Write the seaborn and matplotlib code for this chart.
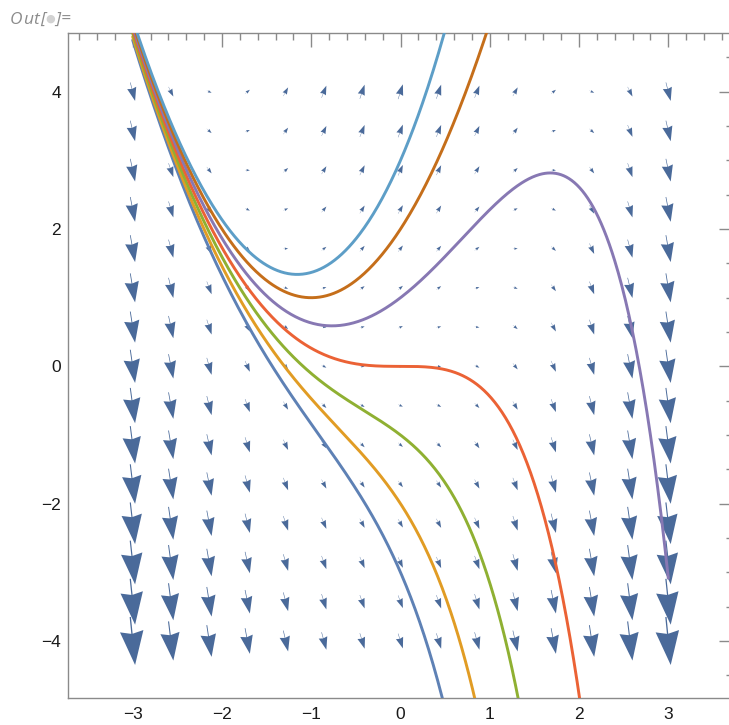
import numpy as np
import pandas as pd
import matplotlib
matplotlib.use("Agg")
import matplotlib.pyplot as plt
import seaborn as sns

# ---- data ----
# slope field dy/dx = y - x^2 sampled on a 15 x 15 grid
field_x = np.linspace(-3, 3, 15)
field_y = np.linspace(-4, 4, 15)
# initial values y(0) of the seven solution curves
initial_y0 = [-3, -2, -1, 0, 1, 2, 3]
curve_colors = ["#5E81B5", "#E19C24", "#8FB032", "#EB6235",
                "#8778B3", "#C56E1A", "#5D9EC7"]
x_ticks = [-3, -2, -1, 0, 1, 2, 3]
y_ticks = [-4, -2, 0, 2, 4]


def slope(x, y):
    return y - x ** 2


def solution(x, y0):
    # exact solution of y' = y - x^2 with y(0) = y0
    return x ** 2 + 2 * x + 2 + (y0 - 2) * np.exp(x)


xs = np.linspace(-3, 3, 600)
rows = []
for k, y0 in enumerate(initial_y0):
    for xv, yv in zip(xs, solution(xs, y0)):
        rows.append({"x": xv, "y": yv, "curve": str(k)})
df = pd.DataFrame(rows)

# ---- figure ----
sns.set_style("white")
plt.rcParams["font.family"] = ["Liberation Sans", "DejaVu Sans"]

W, H = 729, 725
fig = plt.figure(figsize=(W / 100, H / 100), dpi=100)
ax = fig.add_axes([67.7 / W, (H - 698) / H, 665.6 / W, 665 / H])

X, Y = np.meshgrid(field_x, field_y)
U = np.ones_like(X)
V = slope(X, Y)
ax.quiver(X, Y, U, V, angles="xy", scale_units="xy", scale=18.6,
          pivot="middle", units="dots", width=2.0,
          headlength=26, headwidth=18, headaxislength=24,
          minshaft=1.42, minlength=0, color="#4A6A9A", zorder=2)

sns.lineplot(data=df, x="x", y="y", hue="curve", palette=curve_colors,
             sort=False, estimator=None, linewidth=2.1, legend=False,
             ax=ax, zorder=3)

ax.set_xlim(-3.728, 3.728)
ax.set_ylim(-4.83, 4.855)
ax.set_xlabel("")
ax.set_ylabel("")

frame_col = "#8a8a8a"
for s in ax.spines.values():
    s.set_color(frame_col)
    s.set_linewidth(1.0)
    s.set_visible(True)

ax.set_xticks(x_ticks)
ax.set_yticks(y_ticks)
ax.set_xticks(np.arange(-3.6, 3.7, 0.2), minor=True)
ax.set_yticks(np.arange(-4.5, 4.6, 0.5), minor=True)
ax.tick_params(which="both", direction="in", top=True, right=True,
               color=frame_col, width=1.0)
ax.tick_params(which="major", length=10, labelsize=12.5,
               labelcolor="#1a1a1a")
ax.tick_params(which="minor", length=5)
ax.tick_params(axis="x", which="major", pad=6.5)
ax.tick_params(axis="y", which="major", pad=5)

# "Out[•]=" label
chars = [("O", 16.3), ("u", 28.3), ("t", 35.7), ("[", 43.0),
         ("]", 58.0), ("=", 66.0)]
for ch, cx in chars:
    fig.text(cx / W, 1 - 23.5 / H, ch, ha="center", va="baseline",
             fontsize=12.5, style="italic", color="#8c8c8c",
             family=["Open Sans", "DejaVu Sans"])
fig.text(50.0 / W, 1 - 18.5 / H, "\u25CF", ha="center", va="center",
         fontsize=8, color="#d2d2d2", family=["DejaVu Sans"])

fig.savefig("out.png", dpi=100)
